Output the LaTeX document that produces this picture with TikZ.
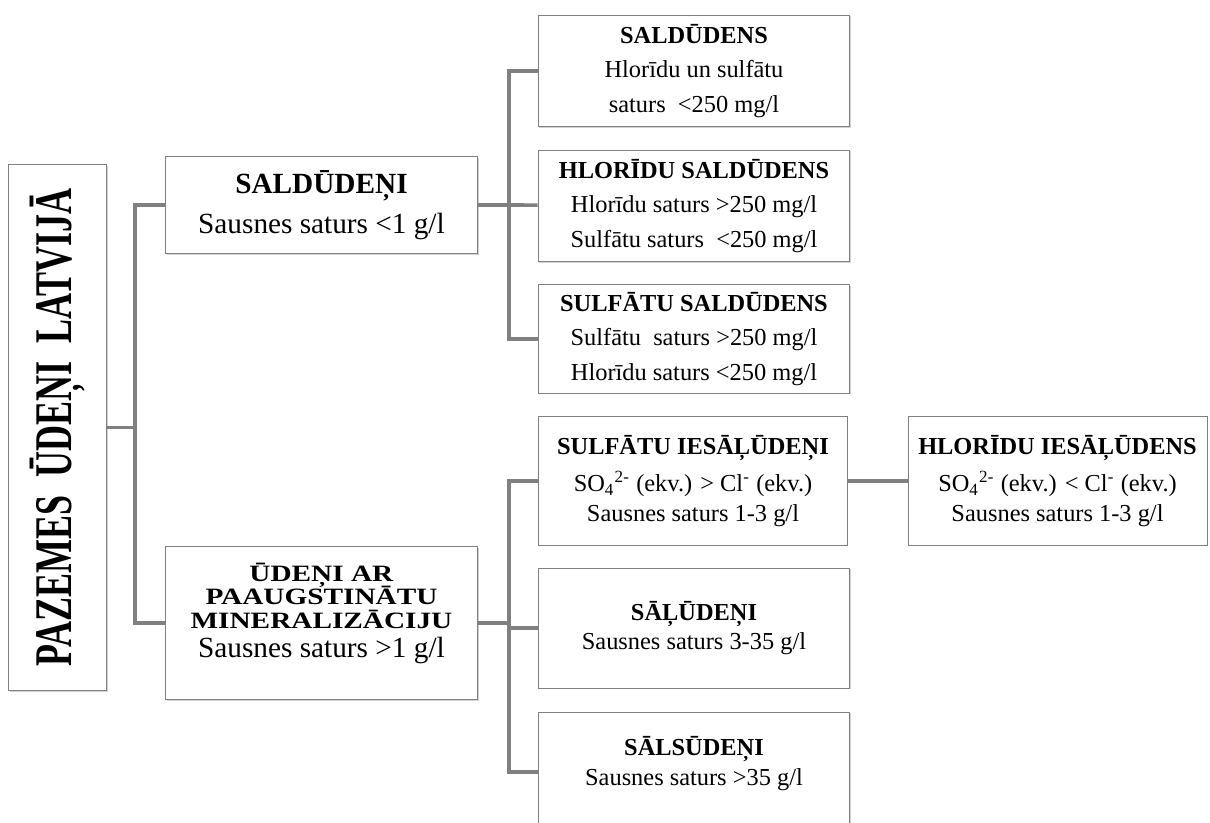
\documentclass[tikz,border=0pt]{standalone}
\usepackage{fontspec}
\setmainfont{Liberation Serif}
\usetikzlibrary{shadows}

\newcommand\midfont{\fontsize{12}{16.4}\selectfont}
\newcommand\sidefont{\fontsize{10}{14.1}\selectfont}
\newcommand\squashed[1]{\scalebox{1}[0.8]{\textbf{#1}}}

\begin{document}
\begin{tikzpicture}[x=0.41pt, y=-0.41pt,
		box/.style={draw=gray, line width=0.4pt, fill=white, align=center, inner sep=0pt,
			drop shadow={shadow xshift=0.6pt, shadow yshift=-0.6pt, fill=gray!70}},
		wire/.style={draw=gray, line width=1.5pt}]
		\useasboundingbox (0,0) rectangle (1210,823);
		\clip (0,0) rectangle (1210,823);
		%
		\node[box, minimum width=39.8pt, minimum height=215.3pt] (root) at (57.5, 427.5)
			{\rotatebox{90}{\scalebox{0.68}[1]{\fontsize{21.7}{22}\selectfont\bfseries PAZEMES~~ŪDEŅI~~LATVIJĀ}}};
		%
		\node[box, minimum width=128.3pt, minimum height=39.4pt, font=\midfont] (fresh) at (321.5, 205)
			{\textbf{SALDŪDEŅI}\\Sausnes saturs <1 g/l};
		\node[box, minimum width=128.3pt, minimum height=62.7pt, text depth=10.5pt,
			font={\fontsize{12}{9.6}\selectfont\lineskiplimit=-20pt}] (mineral) at (321.5, 623)
			{\squashed{ŪDEŅI AR}\\\squashed{PAAUGSTINĀTU}\\\squashed{MINERALIZĀCIJU}\\[2.4pt]Sausnes saturs >1 g/l};
		% Right column
		\node[box, minimum width=127.9pt, minimum height=45.9pt, font=\sidefont] (F1) at (694, 71)
			{\textbf{SALDŪDENS}\\Hlorīdu un sulfātu\\saturs~ <250 mg/l};
		\node[box, minimum width=127.9pt, minimum height=45.9pt, font=\sidefont] (F2) at (694, 206)
			{\textbf{HLORĪDU SALDŪDENS}\\Hlorīdu saturs >250 mg/l\\Sulfātu saturs~ <250 mg/l};
		\node[box, minimum width=127.9pt, minimum height=44.3pt, font=\sidefont] (F3) at (694, 339)
			{\textbf{SULFĀTU SALDŪDENS}\\Sulfātu~ saturs >250 mg/l\\Hlorīdu saturs <250 mg/l};
		%
		\node[box, minimum width=126.3pt, minimum height=52.5pt, font={\fontsize{10}{12.3}\selectfont}] (M1) at (693, 481)
			{\textbf{SULFĀTU IESĀĻŪDEŅI}\\[2.9pt]SO\textsubscript{4}\textsuperscript{2-} (ekv.) > Cl\textsuperscript{-} (ekv.)\\Sausnes saturs 1-3 g/l};
		\node[box, minimum width=127.9pt, minimum height=49.2pt, font={\fontsize{10}{12}\selectfont}] (M2) at (694, 628)
			{\textbf{SĀĻŪDEŅI}\\Sausnes saturs 3-35 g/l};
		\node[box, minimum width=127.9pt, minimum height=49.2pt, font={\fontsize{10}{12}\selectfont},
			text depth=9pt] (M3) at (694, 772)
			{\textbf{SĀLSŪDEŅI}\\Sausnes saturs >35 g/l};
		\node[box, minimum width=122.6pt, minimum height=52.5pt, font={\fontsize{10}{12.3}\selectfont}] (M1') at (1057.5, 481)
			{\textbf{HLORĪDU IESĀĻŪDENS}\\[2.9pt]SO\textsubscript{4}\textsuperscript{2-} (ekv.) < Cl\textsuperscript{-} (ekv.)\\Sausnes saturs 1-3 g/l};
		% Junctions
		\coordinate (J) at (135, 427.5);
		\coordinate (JF) at (509, 205);
		\coordinate (JM) at (509, 623);
		\coordinate (JM2) at (509, 628);
		% Drawing the edges
		\draw[wire] (root) to (J);
		\draw[wire] (fresh) -| (J) |- (mineral);
		%% Fresh water
		\draw[wire] (fresh) to (JF); \draw[wire] (JF) to (F2);
		\draw[wire] (F1) -| (JF) |- (F3);
		%% Mineralised water
		\draw[wire] (mineral) to (JM); \draw[wire] (JM2) to (M2);
		\draw[wire] (M1) -| (JM) |- (M3);
		\draw[wire] (M1) to (M1');
	\end{tikzpicture}
\end{document}
